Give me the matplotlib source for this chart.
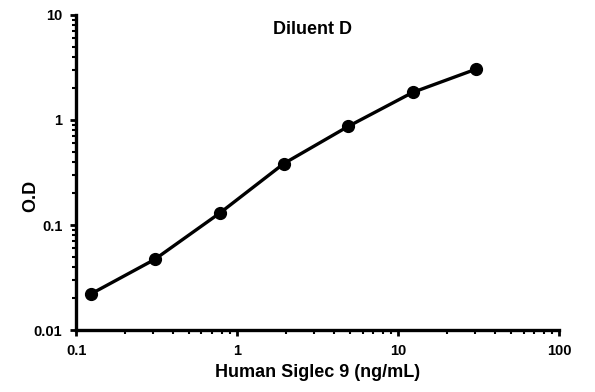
import numpy as np
import matplotlib.pyplot as plt
from matplotlib.ticker import FixedLocator, LogLocator, NullFormatter

plt.rcParams['font.family'] = ['Liberation Sans', 'DejaVu Sans']
plt.rcParams['font.weight'] = 'bold'

# standard curve data
conc = [0.123, 0.307, 0.78, 1.95, 4.9, 12.3, 30.5]
od = [0.022, 0.047, 0.13, 0.385, 0.87, 1.83, 3.05]

xticks = [0.1, 1, 10, 100]
xticklabels = ["0.1", "1", "10", "100"]
yticks = [0.01, 0.1, 1, 10]
yticklabels = ["0.01", "0.1", "1", "10"]

fig = plt.figure(figsize=(5.95, 3.92), dpi=100)
ax = fig.add_axes([0.128, 0.158, 0.812, 0.804])

ax.plot(conc, od, '-', color="black", lw=2.4, marker='o', ms=8.5)

ax.set_xscale('log')
ax.set_yscale('log')
ax.set_xlim(0.1, 100)
ax.set_ylim(0.01, 10)

ax.xaxis.set_major_locator(FixedLocator(xticks))
ax.set_xticklabels(xticklabels)
ax.yaxis.set_major_locator(FixedLocator(yticks))
ax.set_yticklabels(yticklabels)
ax.xaxis.set_minor_locator(LogLocator(base=10, subs=np.arange(2, 10)))
ax.yaxis.set_minor_locator(LogLocator(base=10, subs=np.arange(2, 10)))
ax.xaxis.set_minor_formatter(NullFormatter())
ax.yaxis.set_minor_formatter(NullFormatter())

for s in ['top', 'right']:
    ax.spines[s].set_visible(False)
for s in ['left', 'bottom']:
    ax.spines[s].set_linewidth(2.4)

ax.tick_params(which='major', direction='out', length=4, width=2, labelsize=10.5, pad=6)
ax.tick_params(which='minor', direction='out', length=3, width=1.5)
for lab in ax.get_xticklabels() + ax.get_yticklabels():
    lab.set_fontweight('bold')

ax.set_xlabel("Human Siglec 9 (ng/mL)", fontsize=13, fontweight='bold', labelpad=4)
ax.set_ylabel("O.D", fontsize=13, fontweight='bold')
ax.yaxis.set_label_coords(-0.077, 0.425)
ax.text(0.49, 0.955, "Diluent D", transform=ax.transAxes, ha='center', va='center',
        fontsize=13, fontweight='bold')

fig.savefig("out.png", dpi=100)
